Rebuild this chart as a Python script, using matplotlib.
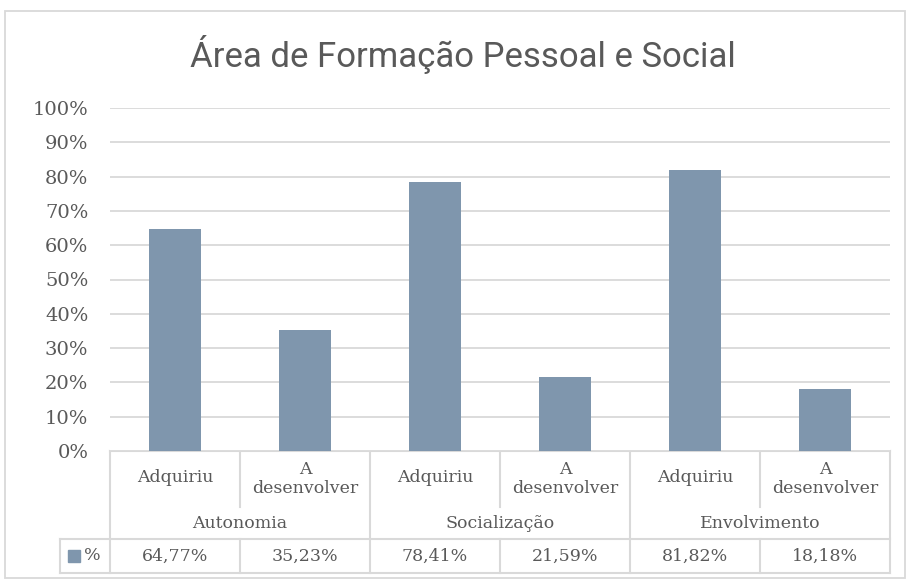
import matplotlib
matplotlib.use('Agg')
import matplotlib.pyplot as plt
from matplotlib.patches import Rectangle

# Chart data
title = 'Área de Formação Pessoal e Social'
groups = ['Autonomia', 'Socialização', 'Envolvimento']
sub_labels = ['Adquiriu', 'A\ndesenvolver'] * 3
values = [64.77, 35.23, 78.41, 21.59, 81.82, 18.18]
series_name = '%'
y_ticks = [0, 10, 20, 30, 40, 50, 60, 70, 80, 90, 100]

bar_color = '#7F96AD'
grid_color = '#D9D9D9'
text_color = '#595959'
serif = ['DejaVu Serif']

W, H = 906, 580
fig = plt.figure(figsize=(W / 100, H / 100), dpi=100)

# plot area in pixels
x0, x1 = 110, 890
y_top, y_bot = 108, 451

ax = fig.add_axes([x0 / W, (H - y_bot) / H, (x1 - x0) / W, (y_bot - y_top) / H])
n = len(values)
ax.bar(range(n), values, width=0.4, color=bar_color, zorder=3)
ax.set_xlim(-0.5, n - 0.5)
ax.set_ylim(0, 100)
ax.set_yticks(y_ticks)
ax.set_yticklabels([f'{t}%' for t in y_ticks], fontsize=14, color=text_color, family=serif)
ax.set_xticks([])
ax.tick_params(axis='y', length=0, pad=15.5)
for s in ax.spines.values():
    s.set_visible(False)
ax.grid(axis='y', color=grid_color, linewidth=1.3, zorder=0)

# overlay in pixel coords for the frame and the data table
ov = fig.add_axes([0, 0, 1, 1], zorder=-1)
ov.set_xlim(0, W)
ov.set_ylim(H, 0)
ov.axis('off')
ov.add_patch(Rectangle((5, 11), W - 6, H - 13, fill=False, edgecolor=grid_color, linewidth=1.3))

col_w = (x1 - x0) / n
r1_bot, r2_bot, r3_bot = 507, 539, 573
leg_x = 60
lc = dict(color=grid_color, linewidth=1.5)

# horizontal lines
ov.plot([x0, x1], [y_bot, y_bot], **lc)
ov.plot([leg_x, x1], [r2_bot, r2_bot], **lc)
ov.plot([leg_x, x1], [r3_bot, r3_bot], **lc)
# vertical lines
for i in range(n + 1):
    xx = x0 + i * col_w
    if i % 2 == 0:
        ov.plot([xx, xx], [y_bot, r3_bot], **lc)
    else:
        ov.plot([xx, xx], [y_bot, r1_bot], **lc)
        ov.plot([xx, xx], [r2_bot, r3_bot], **lc)
ov.plot([leg_x, leg_x], [r2_bot, r3_bot], **lc)

tkw = dict(color=text_color, family=serif, fontsize=12.5, ha='center', va='center')
for i, lab in enumerate(sub_labels):
    cx = x0 + (i + 0.5) * col_w
    if '\n' in lab:
        ov.text(cx, 479, lab, linespacing=1.1, **tkw)
    else:
        ov.text(cx, 478, lab, **tkw)
    ov.text(cx, (r2_bot + r3_bot) / 2, f'{values[i]:.2f}%'.replace('.', ','), **tkw)
for g, name in enumerate(groups):
    cx = x0 + (2 * g + 1) * col_w
    ov.text(cx, (r1_bot + r2_bot) / 2, name, **tkw)

# legend key in the table
ov.add_patch(Rectangle((68, 550), 12, 12, color=bar_color))
ov.text(84, (r2_bot + r3_bot) / 2, series_name, color=text_color, family=serif,
        fontsize=12.5, ha='left', va='center')

fig.text(463 / W, 1 - 55 / H, title, ha='center', va='center', fontsize=25,
         color=text_color, family=['Roboto', 'DejaVu Sans'])

fig.savefig('out.png', dpi=100)
